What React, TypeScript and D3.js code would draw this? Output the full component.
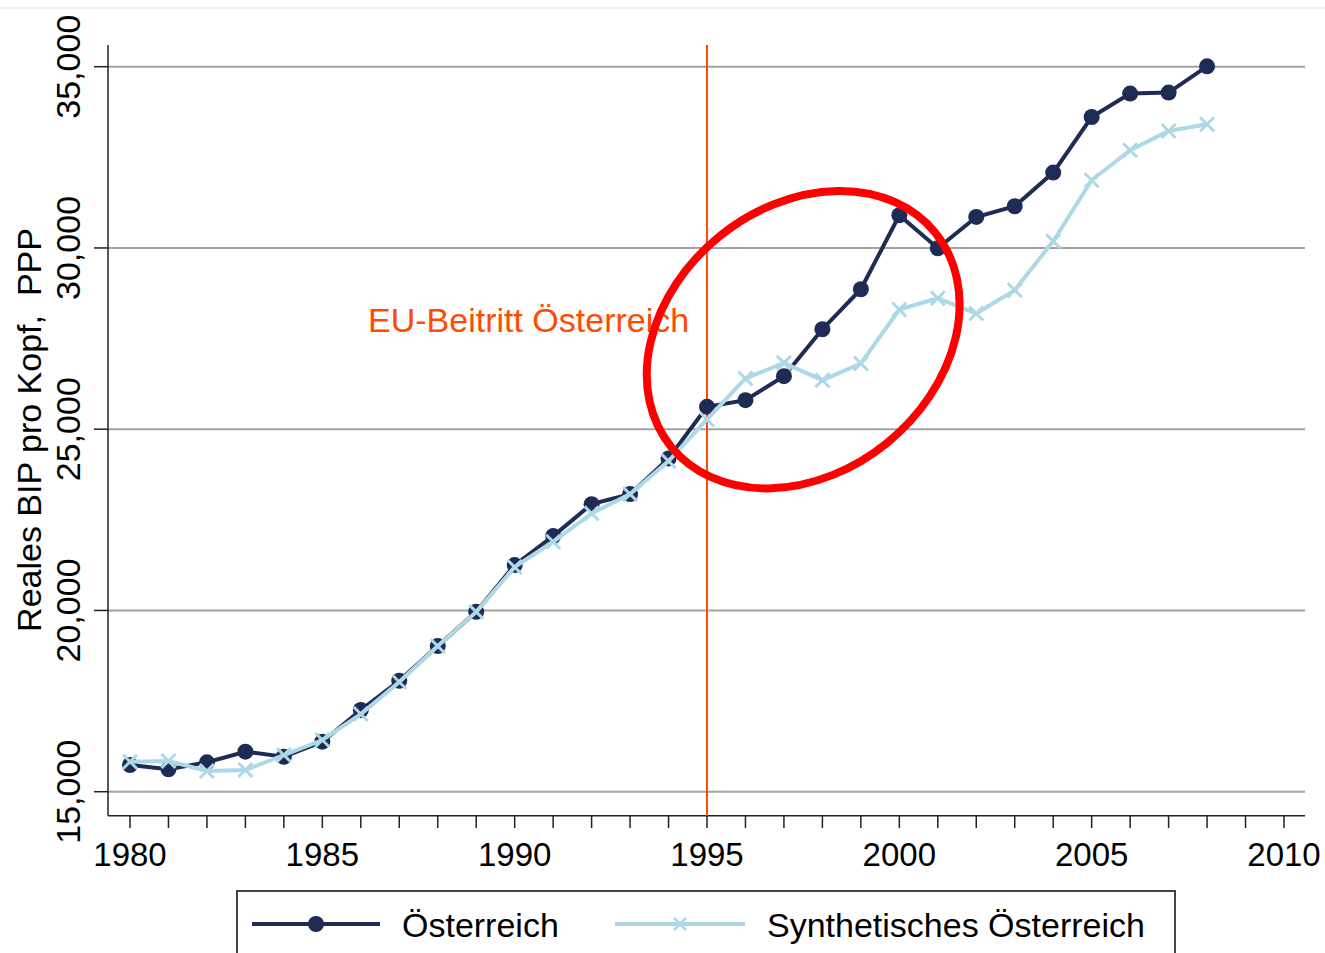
import React from "react";
import * as d3 from "d3";

const years = [1980,1981,1982,1983,1984,1985,1986,1987,1988,1989,1990,1991,1992,1993,1994,1995,1996,1997,1998,1999,2000,2001,2002,2003,2004,2005,2006,2007,2008];
const oesterreich = [15736,15618,15811,16103,15965,16379,17253,18061,19017,19963,21251,22051,22933,23209,24193,25616,25801,26463,27758,28861,30902,29992,30855,31150,32079,33612,34258,34285,35011];
const synthetisch = [15827,15847,15571,15598,16012,16426,17142,18025,19017,19960,21196,21894,22677,23209,24119,25269,26399,26829,26352,26813,28302,28613,28191,28834,30185,31867,32694,33226,33411];
const yTicks = [15000,20000,25000,30000,35000];
const xLabelTicks = [1980,1985,1990,1995,2000,2005,2010];
const xMinorTicks = d3.range(1980, 2011);
const eventYear = 1995;
const eventLabel = "EU-Beitritt Österreich";
const yTitle = "Reales BIP pro Kopf,  PPP";
const seriesNames = ["Österreich", "Synthetisches Österreich"];
const highlightCenter = { year: 1997.5, value: 27470 };

const NAVY = "#1e2b55";
const LIGHT = "#add8e6";
const ORANGE = "#ff4a00";
const FONT = "'Liberation Sans', Arial, sans-serif";

export default function App() {
  const x = d3.scaleLinear().domain([1980, 2010]).range([130, 1284]);
  const y = d3.scaleLinear().domain([15000, 35000]).range([791.7, 66.7]);
  const plotLeft = 108, plotRight = 1305, plotTop = 45, plotBottom = 815.7;

  const line = d3.line<number>().x((_, i) => x(years[i])).y((d) => y(d));
  const fmt = d3.format(",");

  const cx = x(highlightCenter.year);
  const cy = y(highlightCenter.value);

  return (
    <svg width={1325} height={953} style={{ position: "absolute", left: 0, top: 0, background: "#fff" }} fontFamily={FONT}>
      <line x1={0} x2={1325} y1={8} y2={8} stroke="#e6edf0" strokeWidth={1.5} />
      {yTicks.map((t) => (
        <line key={"g" + t} x1={plotLeft} x2={plotRight} y1={y(t)} y2={y(t)} stroke="#a3a3a3" strokeWidth={2} />
      ))}
      <line x1={plotLeft} x2={plotLeft} y1={plotTop} y2={plotBottom} stroke="#222" strokeWidth={1.5} />
      {yTicks.map((t) => (
        <g key={"yt" + t}>
          <line x1={94} x2={plotLeft} y1={y(t)} y2={y(t)} stroke="#222" strokeWidth={1.5} />
          <text transform={`translate(80,${y(t)}) rotate(-90)`} textAnchor="middle" fontSize={34} fill="#000">{fmt(t)}</text>
        </g>
      ))}
      <text transform={`translate(41,430) rotate(-90)`} textAnchor="middle" fontSize={34} fill="#000" style={{ whiteSpace: "pre" }}>{yTitle}</text>
      <line x1={plotLeft} x2={plotRight} y1={plotBottom} y2={plotBottom} stroke="#222" strokeWidth={1.5} />
      {xMinorTicks.map((t) => (
        <line key={"xt" + t} x1={x(t)} x2={x(t)} y1={plotBottom} y2={828} stroke="#222" strokeWidth={1.5} />
      ))}
      {xLabelTicks.map((t) => (
        <text key={"xl" + t} x={x(t)} y={866} textAnchor="middle" fontSize={33} fill="#000">{t}</text>
      ))}
      <line x1={x(eventYear)} x2={x(eventYear)} y1={plotTop} y2={plotBottom} stroke={ORANGE} strokeWidth={2} />
      <text x={368} y={332} fontSize={34} fill={ORANGE}>{eventLabel}</text>
      <path d={line(oesterreich) || ""} fill="none" stroke={NAVY} strokeWidth={4} />
      {oesterreich.map((v, i) => (
        <circle key={"o" + i} cx={x(years[i])} cy={y(v)} r={8} fill={NAVY} />
      ))}
      <path d={line(synthetisch) || ""} fill="none" stroke={LIGHT} strokeWidth={4} />
      {synthetisch.map((v, i) => {
        const px = x(years[i]), py = y(v), s = 7;
        return (
          <path key={"s" + i} d={`M${px - s},${py - s}L${px + s},${py + s}M${px - s},${py + s}L${px + s},${py - s}`} stroke={LIGHT} strokeWidth={3} fill="none" />
        );
      })}
      <ellipse cx={cx} cy={cy} rx={170} ry={133} transform={`rotate(-39,${cx},${cy})`} fill="none" stroke="#ff0000" strokeWidth={8} />
      <rect x={237} y={891} width={938} height={80} fill="#fff" stroke="#444" strokeWidth={2} />
      <line x1={252} x2={380} y1={924} y2={924} stroke={NAVY} strokeWidth={4} />
      <circle cx={316} cy={924} r={8} fill={NAVY} />
      <text x={402} y={937} fontSize={34} fill="#000">{seriesNames[0]}</text>
      <line x1={615} x2={745} y1={924} y2={924} stroke={LIGHT} strokeWidth={4} />
      <path d={`M674,918L686,930M674,930L686,918`} stroke={LIGHT} strokeWidth={3} />
      <text x={767} y={937} fontSize={34} fill="#000">{seriesNames[1]}</text>
    </svg>
  );
}
